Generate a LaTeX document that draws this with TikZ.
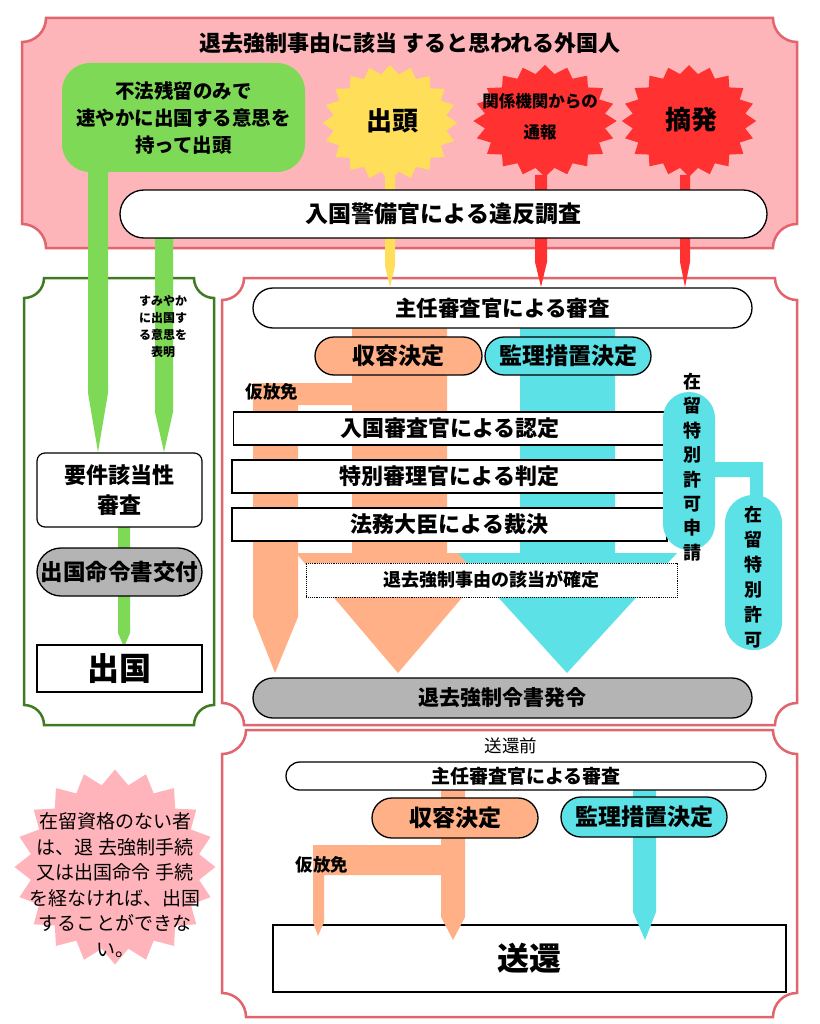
\documentclass[tikz,border=0pt]{standalone}
\usepackage{fontspec}
\setmainfont{Noto Sans CJK JP}
\usetikzlibrary{shapes.geometric}
\definecolor{panelpink}{HTML}{FDB5BA}
\definecolor{panelred}{HTML}{E2656E}
\definecolor{leafgreen}{HTML}{7ED957}
\definecolor{darkgreen}{HTML}{3E7B22}
\definecolor{sunyellow}{HTML}{FFDE59}
\definecolor{alarmred}{HTML}{FF3131}
\definecolor{peach}{HTML}{FFB086}
\definecolor{aqua}{HTML}{5CE1E6}
\definecolor{midgray}{HTML}{B4B4B4}
\definecolor{softpink}{HTML}{FFB3BA}
\newcommand{\jfs}[2]{\fontsize{#1}{#2}\selectfont\bfseries}
% panel with inward rounded corners: x1,y1,x2,y2,r,options
\newcommand{\notchpanel}[6]{%
  \draw[#6] ({#1+#5},#2) -- ({#3-#5},#2) arc[start angle=180,end angle=270,radius=#5pt]
    -- (#3,{#4-#5}) arc[start angle=90,end angle=180,radius=#5pt]
    -- ({#1+#5},#4) arc[start angle=0,end angle=90,radius=#5pt]
    -- (#1,{#2+#5}) arc[start angle=270,end angle=360,radius=#5pt] -- cycle;}

\begin{document}
\begin{tikzpicture}[x=1pt,y=-1pt,
  pill/.style={draw, line width=1.3pt, rounded corners=#1, align=center, inner sep=0pt},
  pill/.default=19pt,
  plainbox/.style={draw, fill=white, line width=1.2pt, align=center, inner sep=0pt},
  burst/.style={star, star points=20, star point ratio=1.18, inner sep=0pt, minimum size=#1}]
   \fill[white] (0,0) rectangle (819,1024);
   \useasboundingbox (0,0) rectangle (819,1024);
   % panels
   \notchpanel{22}{18}{797}{248}{24}{fill=panelpink, draw=panelred, line width=2.5pt}
   \notchpanel{24}{278}{214}{725}{20}{fill=white, draw=darkgreen, line width=2.5pt}
   \notchpanel{222}{278}{797}{725}{22}{fill=white, draw=panelred, line width=2.5pt}
   \notchpanel{222}{730}{797}{1017}{24}{fill=white, draw=panelred, line width=2.5pt}

   % top panel
   \node[font=\jfs{22}{22}] (title) at (410,43) {退去強制事由に該当 すると思われる外国人};
   \node[burst=116pt, xscale=1.16, fill=sunyellow] (shuttou) at (390,123) {};
   \node[burst=112pt, xscale=1.28, fill=alarmred] (tsuuhou) at (545,121) {};
   \node[burst=112pt, xscale=1.2, fill=alarmred] (tekihatsu) at (689,121) {};
   \node[font=\jfs{26}{26}] (shuttoutxt) at (392,121) {出頭};
   \node[font=\jfs{16.5}{31}, align=center] (tsuuhoutxt) at (540,117) {関係機関からの\\通報};
   \node[font=\jfs{26}{26}] (tekihatsutxt) at (691,120) {摘発};
   \fill[leafgreen] (88,172) -- (108,172) -- (108,393) -- (98,452) -- (88,393) -- cycle;
   \fill[leafgreen] (155,238) -- (173,238) -- (173,412) -- (164,452) -- (155,412) -- cycle;
   \fill[sunyellow] (385,175) -- (395,175) -- (395,266) -- (390,287) -- (385,266) -- cycle;
   \fill[alarmred] (535,175) -- (547,175) -- (547,262) -- (541,287) -- (535,262) -- cycle;
   \fill[alarmred] (680,175) -- (690,175) -- (690,262) -- (685,287) -- (680,262) -- cycle;
   \node[fill=leafgreen, rounded corners=28pt, minimum width=243pt, minimum height=109pt,
     align=center, font=\jfs{19.5}{27}] (fuhou) at (183.5,117.5) {不法残留のみで\\速やかに出国する意思を\\持って出頭};
   \node[pill=24pt, fill=white, minimum width=647pt, minimum height=48pt, font=\jfs{23}{23}] (ihan) at (443.5,214) {入国警備官による違反調査};

   % left panel
   \node[font=\jfs{12}{17}, align=center] (hyoumei) at (163,327) {すみやか\\に出国す\\る意思を\\表明};
   \fill[leafgreen] (118,527) -- (130,527) -- (130,633) -- (124,647) -- (118,633) -- cycle;
   \node[plainbox, rounded corners=8pt, minimum width=165pt, minimum height=74pt, font=\jfs{22}{30}] (youken) at (119.5,490) {要件該当性\\審査};
   \node[pill=24pt, fill=midgray, minimum width=165pt, minimum height=48pt, font=\jfs{22.5}{22.5}] (meirei) at (119.5,572) {出国命令書交付};
   \node[plainbox, minimum width=165pt, minimum height=47pt, font=\jfs{32}{32}] (shukkoku) at (119.5,668.5) {出国};

   % middle panel
   \fill[peach] (253,383) -- (352,383) -- (352,405) -- (298,405) -- (298,617) -- (275,673) -- (253,617) -- cycle;
   \fill[peach] (352,328) -- (447,328) -- (447,553) -- (500,553) -- (398,673) -- (296,553) -- (352,553) -- cycle;
   \fill[aqua] (520,328) -- (615,328) -- (615,553) -- (677,553) -- (567,673) -- (458,553) -- (520,553) -- cycle;
   \fill[aqua] (712,462) -- (763,462) -- (763,497) -- (750,497) -- (750,477) -- (712,477) -- cycle;
   \node[pill=20pt, fill=white, minimum width=499pt, minimum height=40pt, font=\jfs{21.5}{21.5}] (shinsa) at (502.5,308) {主任審査官による審査};
   \node[pill, fill=peach, minimum width=167pt, minimum height=38pt, font=\jfs{23}{23}] (shuuyou) at (398.5,356) {収容決定};
   \node[pill, fill=aqua, minimum width=166pt, minimum height=38pt, font=\jfs{23}{23}] (kanri) at (568,356) {監理措置決定};
   \node[font=\jfs{17.5}{17.5}] (karihoumen) at (272,392) {仮放免};
   \node[plainbox, minimum width=433pt, minimum height=33pt, font=\jfs{22}{22}] (nintei) at (450,428.5) {入国審査官による認定};
   \node[plainbox, minimum width=435pt, minimum height=33pt, font=\jfs{22}{22}] (hantei) at (449.5,476.5) {特別審理官による判定};
   \node[plainbox, minimum width=435pt, minimum height=33pt, font=\jfs{22}{22}] (saiketsu) at (449.5,524.5) {法務大臣による裁決};
   \node[draw, densely dotted, line width=0.9pt, fill=white, minimum width=371pt, minimum height=34pt,
     inner sep=0pt, font=\jfs{18}{18}] (kakutei) at (491.5,580) {退去強制事由の該当が確定};
   \node[fill=aqua, rounded corners=26pt, minimum width=52pt, minimum height=158pt] (shinsei) at (689,471) {};
   \node[font=\jfs{18}{24.4}, align=center] (shinseitxt) at (692,467) {在\\留\\特\\別\\許\\可\\申\\請};
   \node[fill=aqua, rounded corners=28pt, minimum width=57pt, minimum height=155pt] (kyoka) at (753.5,572.5) {};
   \node[font=\jfs{18}{25}, align=center] (kyokatxt) at (753,577) {在\\留\\特\\別\\許\\可};
   \node[pill=20pt, fill=midgray, minimum width=499pt, minimum height=40pt, font=\jfs{21}{21}] (reisho) at (502.5,698) {退去強制令書発令};

   % bottom panel
   \node[font=\fontsize{17.5}{17.5}\selectfont] (sokanmae) at (511,746) {送還前};
   \node[plainbox, minimum width=513pt, minimum height=67pt, font=\jfs{32}{32}] (sokan) at (529.5,958.5) {送還};
   \fill[peach] (313,845) -- (441,845) -- (441,875) -- (324,875) -- (324,922) -- (318,936) -- (313,922) -- cycle;
   \fill[peach] (441,790) -- (465,790) -- (465,917) -- (453,940) -- (441,917) -- cycle;
   \fill[aqua] (633,790) -- (656,790) -- (656,912) -- (645,940) -- (633,912) -- cycle;
   \node[pill=14pt, fill=white, minimum width=480pt, minimum height=28pt, font=\jfs{19}{19}] (shinsa2) at (526,776) {主任審査官による審査};
   \node[pill=20pt, fill=peach, minimum width=166pt, minimum height=40pt, font=\jfs{23}{23}] (shuuyou2) at (455,818) {収容決定};
   \node[pill=20pt, fill=aqua, minimum width=166pt, minimum height=40pt, font=\jfs{23}{23}] (kanri2) at (644,817) {監理措置決定};
   \node[font=\jfs{17.5}{17.5}] (karihoumen2) at (322,865) {仮放免};

   % note
   \node[burst=195pt, xscale=1.03, fill=softpink] (chuui) at (115,867) {};
   \node[font=\fontsize{19}{25.5}\selectfont, align=center] (chuuitxt) at (115,885) {在留資格のない者\\は、退 去強制手続\\又は出国命令 手続\\を経なければ、出国\\することができな\\い。};
\end{tikzpicture}
\end{document}
